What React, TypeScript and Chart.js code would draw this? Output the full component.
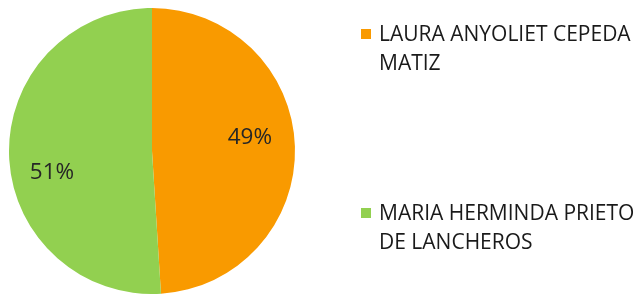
import React, { useEffect, useRef } from "react";
import { Chart, registerables } from "chart.js";

Chart.register(...registerables);

const categories = ["LAURA ANYOLIET CEPEDA MATIZ", "MARIA HERMINDA PRIETO DE LANCHEROS"];
const values = [49, 51];
const colors = ["#F99A00", "#92D050"];

const FONT = "'Open Sans', 'DejaVu Sans', sans-serif";
const LABEL_RADIUS = [0.685, 0.7];
const LABEL_NUDGE_Y = [-10, 18];

const labelPlugin = {
  id: "pctLabels",
  afterDatasetsDraw(chart: any) {
    const ctx = chart.ctx;
    const meta = chart.getDatasetMeta(0);
    const data = chart.data.datasets[0].data as number[];
    const total = data.reduce((a, b) => a + b, 0);
    ctx.save();
    ctx.font = `22.5px ${FONT}`;
    ctx.fillStyle = "#262626";
    ctx.textAlign = "center";
    ctx.textBaseline = "middle";
    meta.data.forEach((arc: any, i: number) => {
      const p = arc.getProps(["x", "y", "startAngle", "endAngle", "outerRadius"], true);
      const mid = (p.startAngle + p.endAngle) / 2;
      const r = p.outerRadius * LABEL_RADIUS[i];
      const x = p.x + Math.cos(mid) * r;
      const y = p.y + Math.sin(mid) * r + LABEL_NUDGE_Y[i];
      ctx.fillText(Math.round((data[i] / total) * 100) + "%", x, y);
    });
    ctx.restore();
  },
};

export default function App() {
  const ref = useRef<HTMLCanvasElement | null>(null);
  useEffect(() => {
    if (!ref.current) return;
    const chart = new Chart(ref.current, {
      type: "pie",
      data: {
        labels: categories,
        datasets: [
          {
            data: values,
            backgroundColor: colors,
            borderWidth: 0,
          },
        ],
      },
      options: {
        responsive: false,
        animation: false,
        devicePixelRatio: 1,
        layout: { padding: { left: 9, top: 8, right: 347, bottom: 0 } },
        plugins: {
          legend: { display: false },
          tooltip: { enabled: false },
        },
      },
      plugins: [labelPlugin],
    });
    return () => chart.destroy();
  }, []);

  const legendTops = [19, 198];
  return (
    <div style={{ position: "fixed", left: 0, top: 0, width: 642, height: 294, background: "#fff" }}>
      <canvas ref={ref} width={642} height={294} style={{ position: "absolute", left: 0, top: 0 }} />
      {categories.map((c, i) => (
        <React.Fragment key={c}>
          <div
            style={{
              position: "absolute",
              left: 361,
              top: legendTops[i] + 10,
              width: 10,
              height: 10,
              background: colors[i],
            }}
          />
          <div
            style={{
              position: "absolute",
              left: 379,
              top: legendTops[i],
              width: 263,
              fontFamily: FONT,
              fontSize: 21,
              lineHeight: "29px",
              color: "#1a1a1a",
            }}
          >
            {c}
          </div>
        </React.Fragment>
      ))}
    </div>
  );
}
